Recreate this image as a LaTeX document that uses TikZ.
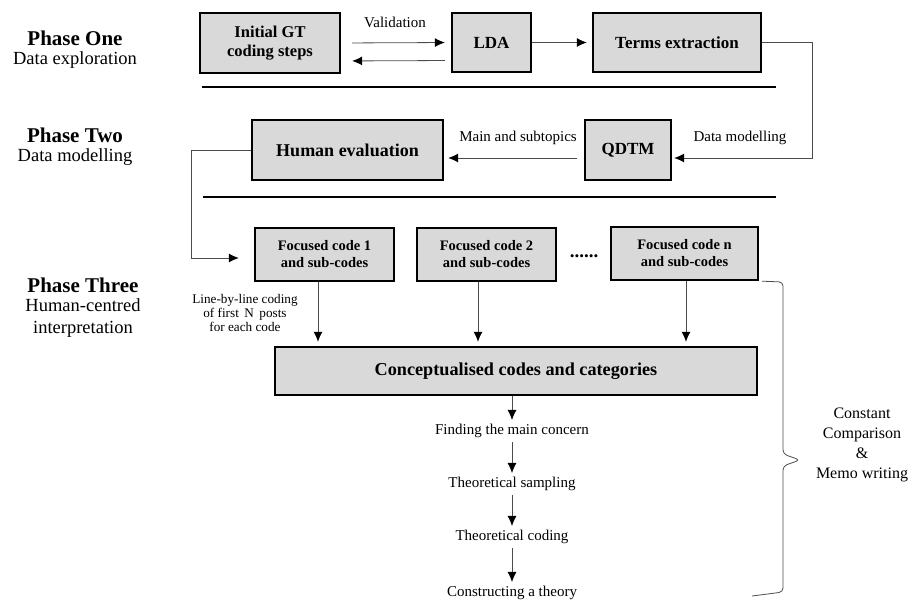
\documentclass[tikz,border=0pt]{standalone}
\usepackage{fontspec}
\setmainfont{Liberation Serif}
\usetikzlibrary{arrows.meta}

\begin{document}
\begin{tikzpicture}
      [x=1pt, y=-1pt,
       stage/.style={draw, line width=2.4pt, fill=black!15, inner sep=0pt, align=center,
         font=\fontsize{17}{19}\selectfont\bfseries},
       flow/.style={draw=black!70, line width=0.8pt, -{Latex[length=10pt,width=9pt,color=black]}},
       sep/.style={line width=2.4pt},
       label/.style={font=\fontsize{15}{18}\selectfont},
       phase/.style={font=\fontsize{21}{24}\selectfont\bfseries},
       phasesub/.style={font=\fontsize{18.5}{22}\selectfont, align=center}]
      \useasboundingbox (0,0) rectangle (917,604);

      % phase titles
      \node[phase] (p1) at (75,38) {Phase One};
      \node[phasesub] (p1s) at (75,60) {Data exploration};
      \node[phase] (p2) at (75,135) {Phase Two};
      \node[phasesub] (p2s) at (75,157) {Data modelling};
      \node[phase] (p3) at (83,285) {Phase Three};
      \node[phasesub] (p3s) at (83,318) {Human-centred\\interpretation};

      % phase one
      \node[stage, minimum width=140pt, minimum height=60pt, font=\fontsize{16.5}{19}\selectfont\bfseries]
        (init) at (270,43) {Initial GT\\coding steps};
      \node[stage, minimum width=79pt, minimum height=59pt] (lda) at (491.5,42.5) {LDA};
      \node[stage, minimum width=168pt, minimum height=59pt] (terms) at (677,42.5) {Terms extraction};

      \draw[flow, shorten <=11pt, shorten >=6pt] (init.east) -- (lda.west);
      \draw[flow, shorten <=6pt, shorten >=11pt] ([yshift=-18pt]lda.west) -- ([yshift=-18pt]init.east);
      \node[label] (valid) at (395,22) {Validation};
      \draw[flow, shorten >=5pt] (lda) -- (terms);

      \draw[sep] (202,87) -- (776,87);

      % phase two
      \node[stage, minimum width=86pt, minimum height=60pt] (qdtm) at (628,150) {QDTM};
      \node[stage, minimum width=191pt, minimum height=60pt, font=\fontsize{18}{20}\selectfont\bfseries]
        (human) at (347.5,150) {Human evaluation};

      \coordinate (tr) at (812,42.5);
      \draw[flow, shorten >=2pt] (terms.east) -- (tr) |- ([yshift=-8pt]qdtm.east);
      \node[label] (dm) at (740,138) {Data modelling};
      \draw[flow, shorten <=7pt, shorten >=4pt] ([yshift=-8pt]qdtm.west) -- ([yshift=-8pt]human.east);
      \node[label] (mst) at (518,138) {Main and subtopics};

      \draw[sep] (203,197) -- (776,197);

      % phase three
      \node[stage, minimum width=139pt, minimum height=53pt, font=\fontsize{14.5}{17}\selectfont\bfseries]
        (fc1) at (324.5,254.5) {Focused code 1\\and sub-codes};
      \node[stage, minimum width=139pt, minimum height=53pt, font=\fontsize{14.5}{17}\selectfont\bfseries]
        (fc2) at (486.5,254.5) {Focused code 2\\and sub-codes};
      \node[stage, minimum width=147pt, minimum height=53pt, font=\fontsize{14.5}{17}\selectfont\bfseries]
        (fcn) at (684.5,253.5) {Focused code n\\and sub-codes};
      \node[font=\fontsize{19}{20}\selectfont\bfseries] (dots) at (584,256) {......};

      \draw[flow, shorten >=15pt] (human.west) -- ++(-59,0) |- ([yshift=-3.5pt]fc1.west);

      \node[stage, minimum width=482pt, minimum height=48pt, font=\fontsize{18.2}{20}\selectfont\bfseries]
        (concept) at (516,371) {Conceptualised codes and categories};

      \draw[flow, shorten >=4pt] ([xshift=-6.5pt]fc1.south) -- ([xshift=-6.5pt]fc1.south |- concept.north);
      \draw[flow, shorten >=4pt] ([xshift=-8.5pt]fc2.south) -- ([xshift=-8.5pt]fc2.south |- concept.north);
      \draw[flow, shorten >=4pt] ([xshift=1.5pt]fcn.south) -- ([xshift=1.5pt]fcn.south |- concept.north);
      \node[font=\fontsize{13.2}{14}\selectfont, align=center] (lbl) at (245,313)
        {Line-by-line coding\\of first\, N\, posts\\for each code};

      % theory steps
      \node[label, inner sep=4pt] (find) at (512,431) {Finding the main concern};
      \node[label, inner sep=4pt] (samp) at (512,484) {Theoretical sampling};
      \node[label, inner sep=4pt] (tcod) at (512,537) {Theoretical coding};
      \node[label, inner sep=4pt] (theory) at (512,593) {Constructing a theory};
      \draw[flow] (concept.south -| find) -- (find);
      \draw[flow] (find) -- (samp);
      \draw[flow] (samp) -- (tcod);
      \draw[flow] (tcod) -- (theory);

      % brace
      \draw[black!70, line width=0.8pt, rounded corners=4pt]
        ([xshift=3pt]fcn.south east) -- (783,282) -- (783,454) -- (800,460)
        -- (783,466) -- (783,592) -- (752,596);
      \node[font=\fontsize{16}{20}\selectfont, align=center] (memo) at (862,445)
        {Constant\\Comparison\\\&\\Memo writing};
    \end{tikzpicture}
\end{document}
